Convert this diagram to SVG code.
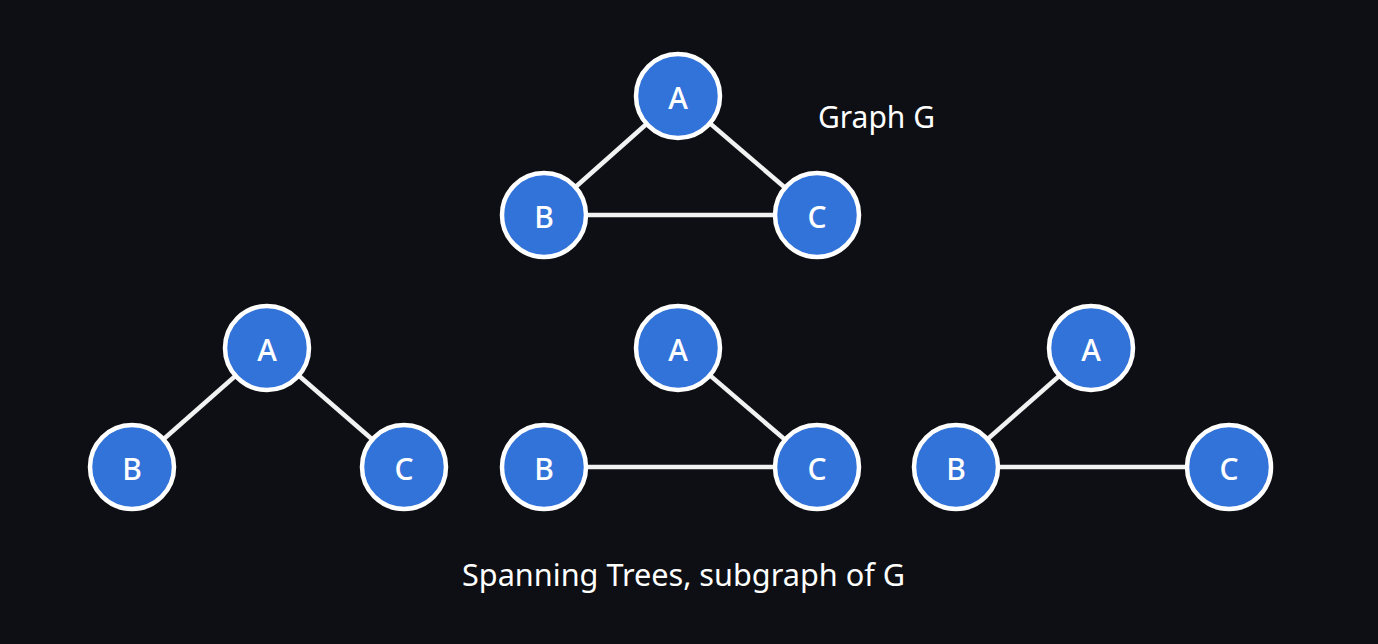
<svg xmlns="http://www.w3.org/2000/svg" width="1378" height="644" viewBox="0 0 1378 644">
<style>
.n circle{fill:#3273da;stroke:#ffffff;stroke-width:4.5}
.n text{fill:#ffffff;font-family:"Noto Sans","Open Sans",sans-serif;font-size:30px;font-weight:500;text-anchor:middle;dominant-baseline:central}
.e line{stroke:#f2f2f2;stroke-width:4.5}
.lbl{fill:#ffffff;font-family:"Noto Sans","Open Sans",sans-serif;font-size:30px}
</style>
<rect width="1378" height="644" fill="#0e0f14"/>
<g id="connectors" class="e">
<line x1="678" y1="96" x2="544" y2="215"/>
<line x1="678" y1="96" x2="817" y2="215"/>
<line x1="544" y1="215" x2="817" y2="215"/>
<line x1="267" y1="348" x2="132" y2="467"/>
<line x1="267" y1="348" x2="404" y2="467"/>
<line x1="678" y1="348" x2="817" y2="467"/>
<line x1="544" y1="467" x2="817" y2="467"/>
<line x1="1091" y1="348" x2="956" y2="467"/>
<line x1="956" y1="467" x2="1229" y2="467"/>
</g>
<g id="g-A" class="n"><circle cx="678" cy="96" r="42"/><text x="678" y="97">A</text></g>
<g id="g-B" class="n"><circle cx="544" cy="215" r="42"/><text x="544" y="216">B</text></g>
<g id="g-C" class="n"><circle cx="817" cy="215" r="42"/><text x="817" y="216">C</text></g>
<g id="t1-A" class="n"><circle cx="267" cy="348" r="42"/><text x="267" y="349">A</text></g>
<g id="t1-B" class="n"><circle cx="132" cy="467" r="42"/><text x="132" y="468">B</text></g>
<g id="t1-C" class="n"><circle cx="404" cy="467" r="42"/><text x="404" y="468">C</text></g>
<g id="t2-A" class="n"><circle cx="678" cy="348" r="42"/><text x="678" y="349">A</text></g>
<g id="t2-B" class="n"><circle cx="544" cy="467" r="42"/><text x="544" y="468">B</text></g>
<g id="t2-C" class="n"><circle cx="817" cy="467" r="42"/><text x="817" y="468">C</text></g>
<g id="t3-A" class="n"><circle cx="1091" cy="348" r="42"/><text x="1091" y="349">A</text></g>
<g id="t3-B" class="n"><circle cx="956" cy="467" r="42"/><text x="956" y="468">B</text></g>
<g id="t3-C" class="n"><circle cx="1229" cy="467" r="42"/><text x="1229" y="468">C</text></g>
<g id="labels">
<text class="lbl" x="818" y="128" textLength="117" lengthAdjust="spacingAndGlyphs">Graph G</text>
<text class="lbl" x="462" y="586" textLength="443" lengthAdjust="spacingAndGlyphs">Spanning Trees, subgraph of G</text>
</g>
</svg>
